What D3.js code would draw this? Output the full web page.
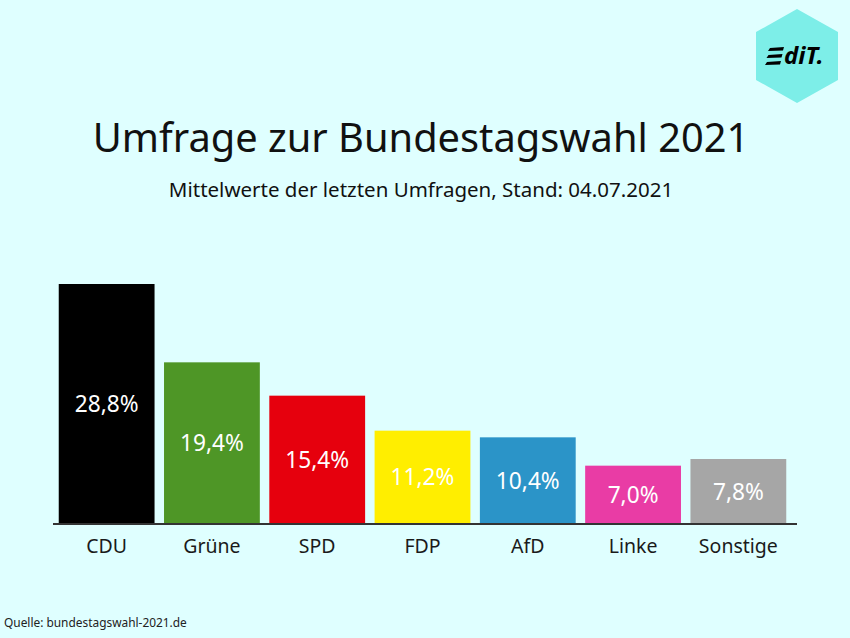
<!DOCTYPE html>
<html>
<head>
<meta charset="utf-8">
<script src="https://cdn.jsdelivr.net/npm/d3@7"></script>
<style>
html, body { margin: 0; padding: 0; background: #dfffff; }
svg { display: block; }
text { font-family: "Noto Sans", sans-serif; }
</style>
</head>
<body>
<div id="chart"></div>
<script>
var parties = ["CDU", "Grüne", "SPD", "FDP", "AfD", "Linke", "Sonstige"];
var values = [28.8, 19.4, 15.4, 11.2, 10.4, 7.0, 7.8];
var labels = ["28,8%", "19,4%", "15,4%", "11,2%", "10,4%", "7,0%", "7,8%"];
var colors = ["#000000", "#4e9626", "#e6000d", "#ffee00", "#2b94c8", "#e93ca5", "#a6a6a6"];

var width = 850, height = 638;

var svg = d3.select("#chart").append("svg")
    .attr("width", width)
    .attr("height", height);

svg.append("rect")
    .attr("width", width)
    .attr("height", height)
    .attr("fill", "#dfffff");

var x = d3.scaleBand()
    .domain(parties)
    .range([54, 791])
    .paddingInner(0.09)
    .paddingOuter(0.045);

var y = d3.scaleLinear()
    .domain([0, 28.8])
    .range([524, 284]);

// bars
svg.selectAll("rect.bar")
    .data(parties)
    .enter().append("rect")
    .attr("class", "bar")
    .attr("x", function(d) { return x(d); })
    .attr("y", function(d, i) { return y(values[i]); })
    .attr("width", x.bandwidth())
    .attr("height", function(d, i) { return y(0) - y(values[i]); })
    .attr("fill", function(d, i) { return colors[i]; });

// value labels
svg.selectAll("text.value")
    .data(parties)
    .enter().append("text")
    .attr("class", "value")
    .attr("x", function(d) { return x(d) + x.bandwidth() / 2; })
    .attr("y", function(d, i) { return (y(values[i]) + y(0)) / 2 + 8; })
    .attr("text-anchor", "middle")
    .attr("font-size", 22.7)
    .attr("fill", "#ffffff")
    .text(function(d, i) { return labels[i]; });

// axis
var axis = svg.append("g")
    .attr("transform", "translate(0,524)")
    .call(d3.axisBottom(x).tickSize(0).tickPadding(15));
axis.select(".domain")
    .attr("d", "M53,0H797")
    .attr("stroke", "#333333")
    .attr("stroke-width", 2);
axis.selectAll("text")
    .style("font-family", '"Noto Sans", sans-serif')
    .style("font-size", "19.5px")
    .attr("fill", "#1a1a1a");

// titles
svg.append("text")
    .attr("x", 421)
    .attr("y", 152)
    .attr("text-anchor", "middle")
    .attr("font-size", 39.8)
    .attr("fill", "#111111")
    .text("Umfrage zur Bundestagswahl 2021");

svg.append("text")
    .attr("x", 421)
    .attr("y", 197)
    .attr("text-anchor", "middle")
    .attr("font-size", 20.5)
    .attr("fill", "#111111")
    .text("Mittelwerte der letzten Umfragen, Stand: 04.07.2021");

svg.append("text")
    .attr("x", 4)
    .attr("y", 627)
    .attr("font-size", 11.9)
    .attr("fill", "#222222")
    .text("Quelle: bundestagswahl-2021.de");

// logo
var logo = svg.append("g").attr("transform", "translate(797,56)");
logo.append("polygon")
    .attr("points", "0,-47 41,-24 41,24 0,47 -41,24 -41,-24")
    .attr("fill", "#7deee8");
// the E of the logo is three slanted strokes
[-8, -1, 6].forEach(function(dy, i) {
  logo.append("polygon")
      .attr("points", [[-27 - i * 1.5, dy], [-13 - i * 1.5, dy - 1], [-14 - i * 1.5, dy + 2.5], [-29 - i * 1.5, dy + 3]].join(" "))
      .attr("fill", "#000000");
});
logo.append("text")
    .attr("x", -13)
    .attr("y", 8)
    .attr("font-size", 24)
    .attr("font-weight", "bold")
    .attr("font-style", "italic")
    .attr("fill", "#000000")
    .text("diT.");
</script>
</body>
</html>
